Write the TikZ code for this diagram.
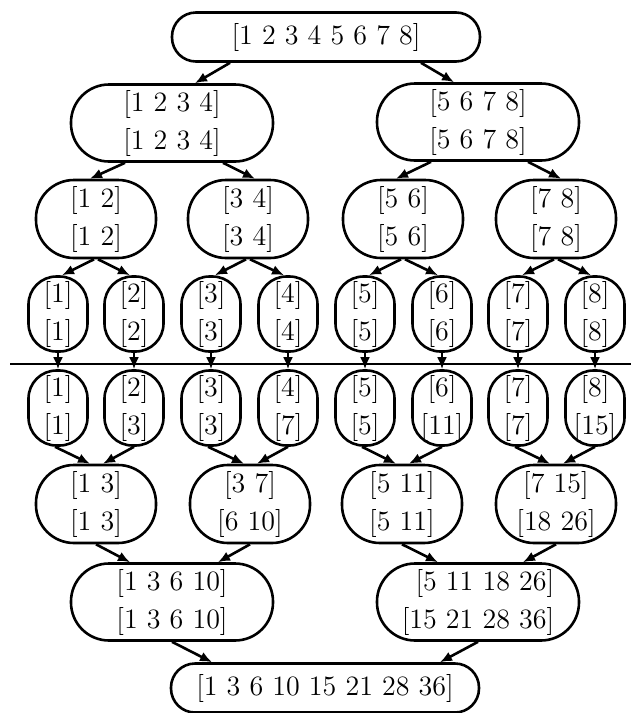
\documentclass[tikz,border=0pt]{standalone}
\usepackage{tikz}
\usetikzlibrary{
    arrows.meta,
    positioning
}

\begin{document}
\begin{tikzpicture}[
        x=0.5pt, y=-0.5pt,
        >={Latex[length=6pt,width=5pt]},
        seg/.style={
            draw,
            line width=1.3pt,
            inner sep=0pt,
            align=center,
            font=\fontsize{14}{19}\selectfont
        },
        wide/.style={seg, minimum width=154pt, minimum height=24.5pt, rounded corners=12pt},
        half/.style={seg, minimum width=101pt, minimum height=38.5pt, rounded corners=19pt},
        quarter/.style={seg, minimum width=60pt, minimum height=39pt, rounded corners=19pt},
        leaf/.style={seg, minimum width=29.5pt, minimum height=37.5pt, rounded corners=14pt},
        link/.style={->, line width=1.3pt}
    ]
        \useasboundingbox (0,0) rectangle (631,713);

        % upper half: splitting
        \node[wide] (R) at (326,37) {[1 2 3 4 5 6 7 8]};
        \node[half] (A1) at (172,123) {[1 2 3 4]\\{}[1 2 3 4]};
        \node[half] (A2) at (478,122) {[5 6 7 8]\\{}[5 6 7 8]};
        \node[quarter] (B1) at (96,219) {[1 2]\\{}[1 2]};
        \node[quarter] (B2) at (248,219) {[3 4]\\{}[3 4]};
        \node[quarter] (B3) at (403,219) {[5 6]\\{}[5 6]};
        \node[quarter] (B4) at (556,219) {[7 8]\\{}[7 8]};
        \node[leaf] (C1) at (58,314) {[1]\\{}[1]};
        \node[leaf] (C2) at (134,314) {[2]\\{}[2]};
        \node[leaf] (C3) at (211,314) {[3]\\{}[3]};
        \node[leaf] (C4) at (288,314) {[4]\\{}[4]};
        \node[leaf] (C5) at (365,314) {[5]\\{}[5]};
        \node[leaf] (C6) at (442,314) {[6]\\{}[6]};
        \node[leaf] (C7) at (518,314) {[7]\\{}[7]};
        \node[leaf] (C8) at (595,314) {[8]\\{}[8]};

        % divider
        \coordinate (L) at (10,364);
        \coordinate (Rt) at (631,364);
        \draw[line width=1.3pt] (L) -- (Rt);

        % lower half: combining
        \node[leaf] (D1) at (58,408) {[1]\\{}[1]};
        \node[leaf] (D2) at (134,408) {[2]\\{}[3]};
        \node[leaf] (D3) at (211,408) {[3]\\{}[3]};
        \node[leaf] (D4) at (288,408) {[4]\\{}[7]};
        \node[leaf] (D5) at (365,408) {[5]\\{}[5]};
        \node[leaf] (D6) at (442,408) {[6]\\{}[11]};
        \node[leaf] (D7) at (518,408) {[7]\\{}[7]};
        \node[leaf] (D8) at (595,408) {[8]\\{}[15]};
        \node[quarter] (E1) at (96,504) {[1 3]\\{}[1 3]};
        \node[quarter] (E2) at (250,504) {[3 7]\\{}[6 10]};
        \node[quarter] (E3) at (402,504) {[5 11]\\{}[5 11]};
        \node[quarter] (E4) at (556,504) {[7 15]\\{}[18 26]};
        \node[half] (F1) at (172,602) {[1 3 6 10]\\{}[1 3 6 10]};
        \node[half, align=right] (F2) at (478,602) {[5 11 18 26]\\{}[15 21 28 36]};
        \node[wide] (S) at (325,688) {[1 3 6 10 15 21 28 36]};

        \draw[link] ([shift={(-96,0)}]R.south) -- ([shift={(23,0)}]A1.north);
        \draw[link] ([shift={(95,0)}]R.south) -- ([shift={(-24,0)}]A2.north);
        \draw[link] ([shift={(-47,0)}]A1.south) -- ([shift={(-6,0)}]B1.north);
        \draw[link] ([shift={(51,0)}]A1.south) -- ([shift={(7,0)}]B2.north);
        \draw[link] ([shift={(-47,0)}]A2.south) -- ([shift={(-7,0)}]B3.north);
        \draw[link] ([shift={(50,0)}]A2.south) -- ([shift={(5,0)}]B4.north);

        \draw[link] ([shift={(-2,0)}]B1.south) -- ([shift={(4,0)}]C1.north);
        \draw[link] ([shift={(2,0)}]B1.south) -- ([shift={(-4,0)}]C2.north);
        \draw[link] ([shift={(-2,0)}]B2.south) -- ([shift={(4,0)}]C3.north);
        \draw[link] ([shift={(2,0)}]B2.south) -- ([shift={(-4,0)}]C4.north);
        \draw[link] ([shift={(-2,0)}]B3.south) -- ([shift={(4,0)}]C5.north);
        \draw[link] ([shift={(2,0)}]B3.south) -- ([shift={(-4,0)}]C6.north);
        \draw[link] ([shift={(-2,0)}]B4.south) -- ([shift={(4,0)}]C7.north);
        \draw[link] ([shift={(2,0)}]B4.south) -- ([shift={(-4,0)}]C8.north);

        \draw[link] (C1) -- (D1);
        \draw[link] (C2) -- (D2);
        \draw[link] (C3) -- (D3);
        \draw[link] (C4) -- (D4);
        \draw[link] (C5) -- (D5);
        \draw[link] (C6) -- (D6);
        \draw[link] (C7) -- (D7);
        \draw[link] (C8) -- (D8);

        \draw[link] ([shift={(-3,0)}]D1.south) -- ([shift={(-6,0)}]E1.north);
        \draw[link] (D2.south) -- ([shift={(7,0)}]E1.north);
        \draw[link] ([shift={(-3,0)}]D3.south) -- ([shift={(-6,0)}]E2.north);
        \draw[link] (D4.south) -- ([shift={(7,0)}]E2.north);
        \draw[link] ([shift={(-3,0)}]D5.south) -- ([shift={(-6,0)}]E3.north);
        \draw[link] (D6.south) -- ([shift={(7,0)}]E3.north);
        \draw[link] ([shift={(-3,0)}]D7.south) -- ([shift={(-6,0)}]E4.north);
        \draw[link] (D8.south) -- ([shift={(7,0)}]E4.north);

        \draw[link] (E1.south) -- ([shift={(-42,0)}]F1.north);
        \draw[link] (E2.south) -- ([shift={(46,0)}]F1.north);
        \draw[link] (E3.south) -- ([shift={(-40,0)}]F2.north);
        \draw[link] (E4.south) -- ([shift={(45,0)}]F2.north);

        \draw[link] (F1.south) -- ([shift={(-113,0)}]S.north);
        \draw[link] (F2.south) -- ([shift={(115,0)}]S.north);
    \end{tikzpicture}
\end{document}
